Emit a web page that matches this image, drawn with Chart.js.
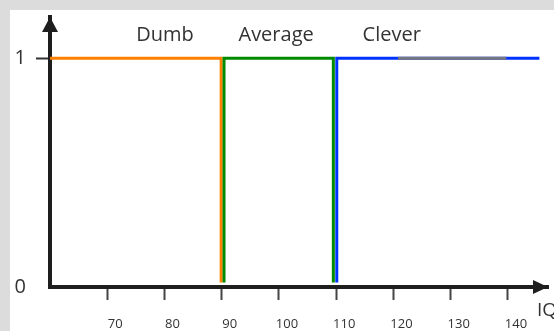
<!DOCTYPE html>
<html>
<head>
<meta charset="utf-8">
<script src="https://cdn.jsdelivr.net/npm/chart.js@4/dist/chart.umd.min.js"></script>
<style>
  html, body { margin: 0; padding: 0; background: #dcdcdc; overflow: hidden; }
  #panel { position: absolute; left: 10px; top: 10px; width: 544px; height: 321px; background: #fff; }
  #wrap { position: absolute; left: 0; top: 0; width: 554px; height: 331px; }
</style>
</head>
<body>
<div id="panel"></div>
<div id="wrap"><canvas id="iq"></canvas></div>
<script>
// groups and where their names sit (IQ units)
var groupNames = ["Dumb", "Average", "Clever"];
var groupLabelX = [80.1, 99.5, 119.7];
var xTicks = [70, 80, 90, 100, 110, 120, 130, 140];
var yTicks = [0, 1];

// step lines
var dumbX = [60, 89.9, 89.9];
var dumbY = [1, 1, 0.02];
var averageX = [90.4, 90.4, 109.5, 109.5];
var averageY = [0.02, 1, 1, 0.02];
var cleverX = [110.1, 110.1, 145.5];
var cleverY = [0.02, 1, 1];
var greyX = [120.8, 139.7];
var greyY = [1, 1];

function pts(xs, ys) {
  return xs.map(function (x, i) { return { x: x, y: ys[i] }; });
}

const axisArrows = {
  id: "axisArrows",
  afterDraw(chart) {
    const ctx = chart.ctx;
    const xs = chart.scales.x, ys = chart.scales.y;
    const x0 = xs.left, y0 = ys.bottom;
    ctx.save();
    ctx.fillStyle = "#1e1e1e";
    // y arrow
    ctx.beginPath();
    ctx.moveTo(x0, ys.top);
    ctx.lineTo(x0 - 8, ys.top + 15);
    ctx.lineTo(x0 + 8, ys.top + 15);
    ctx.closePath();
    ctx.fill();
    // x arrow
    ctx.beginPath();
    ctx.moveTo(xs.right, y0);
    ctx.lineTo(xs.right - 15, y0 - 7);
    ctx.lineTo(xs.right - 15, y0 + 7);
    ctx.closePath();
    ctx.fill();
    // group names
    ctx.fillStyle = "#333";
    ctx.font = "20px 'Open Sans'";
    ctx.textAlign = "center";
    ctx.textBaseline = "middle";
    groupNames.forEach(function (n, i) {
      ctx.fillText(n, xs.getPixelForValue(groupLabelX[i]), 35);
    });
    ctx.textAlign = "left";
    ctx.textBaseline = "alphabetic";
    ctx.font = "19px 'Open Sans'";
    ctx.fillText("IQ", xs.right - 11, y0 + 29);
    ctx.restore();
  }
};

const config_iq = {
  type: "line",
  data: {
    datasets: [
      { label: "Dumb", data: pts(dumbX, dumbY), borderColor: "#ff7f00", borderWidth: 3, order: 3 },
      { label: "Average", data: pts(averageX, averageY), borderColor: "#008a00", borderWidth: 3, order: 2 },
      { label: "Clever", data: pts(cleverX, cleverY), borderColor: "#0033ff", borderWidth: 3, order: 1 },
      { label: "grey", data: pts(greyX, greyY), borderColor: "#77777f", borderWidth: 3, order: 0 },
    ],
  },
  options: {
    responsive: false,
    animation: false,
    layout: { padding: { top: 17, right: 6, left: 0, bottom: 0 } },
    elements: { point: { radius: 0 }, line: { tension: 0, borderCapStyle: "butt" } },
    plugins: { legend: { display: false }, tooltip: { enabled: false } },
    scales: {
      x: {
        type: "linear",
        min: 60,
        max: 147,
        afterBuildTicks: function (s) { s.ticks = xTicks.map(function (v) { return { value: v }; }); },
        afterFit: function (s) { s.height = 44; s.paddingLeft = 0; s.paddingRight = 0; },
        border: { display: true, color: "#1e1e1e", width: 4 },
        grid: { drawOnChartArea: false, drawTicks: true, tickLength: 13, tickWidth: 2, tickColor: "#444" },
        ticks: { color: "#333", font: { family: "Open Sans", size: 13 }, padding: 16, labelOffset: 8, maxRotation: 0 },
      },
      y: {
        min: 0,
        max: 1.18,
        afterBuildTicks: function (s) { s.ticks = yTicks.map(function (v) { return { value: v }; }); },
        afterFit: function (s) { s.width = 50; s.paddingTop = 0; s.paddingBottom = 0; },
        border: { display: true, color: "#1e1e1e", width: 4 },
        grid: {
          drawOnChartArea: false, drawTicks: true, tickLength: 14, tickWidth: 2,
          tickColor: function (c) { return c.tick && c.tick.value === 1 ? "#333" : "rgba(0,0,0,0)"; },
        },
        ticks: { color: "#333", font: { family: "Open Sans", size: 20 }, padding: 10 },
      },
    },
  },
  plugins: [axisArrows],
};

const c = document.getElementById("iq");
c.width = 554; c.height = 331;
const iqChart = new Chart(c, config_iq);
</script>
</body>
</html>
